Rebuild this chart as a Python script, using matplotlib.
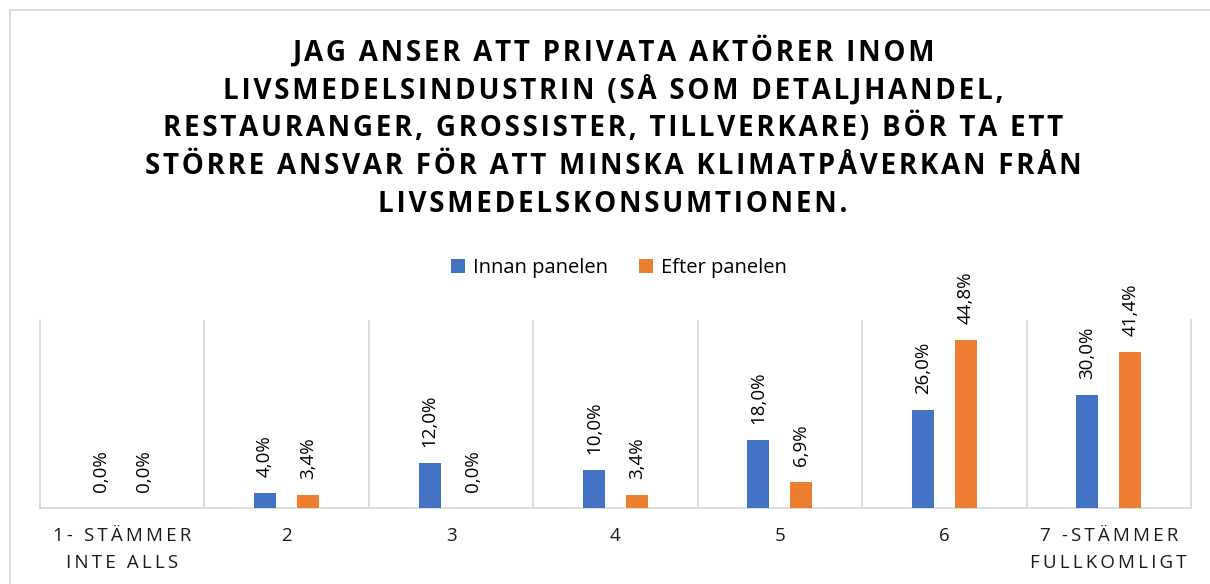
import matplotlib
matplotlib.use("Agg")
import matplotlib.pyplot as plt
import numpy as np
from matplotlib.patches import Patch, Rectangle

categories = ["1- STÄMMER\nINTE ALLS", "2", "3", "4", "5", "6", "7 -STÄMMER\nFULLKOMLIGT"]
innan = [0.0, 4.0, 12.0, 10.0, 18.0, 26.0, 30.0]
efter = [0.0, 3.4, 0.0, 3.4, 6.9, 44.8, 41.4]
series_names = ["Innan panelen", "Efter panelen"]
title_lines = [
    "JAG ANSER ATT PRIVATA AKTÖRER INOM",
    "LIVSMEDELSINDUSTRIN (SÅ SOM DETALJHANDEL,",
    "RESTAURANGER, GROSSISTER, TILLVERKARE) BÖR TA ETT",
    "STÖRRE ANSVAR FÖR ATT MINSKA KLIMATPÅVERKAN FRÅN",
    "LIVSMEDELSKONSUMTIONEN.",
]

BLUE = "#4472C4"
ORANGE = "#ED7D31"
GRID = "#D9D9D9"
FAM = ["Open Sans", "DejaVu Sans"]


def spaced(s, sep):
    return "\n".join(sep.join(line) for line in s.split("\n"))


W, H = 1210, 584
fig = plt.figure(figsize=(W / 100, H / 100), dpi=100)

# outer chart border
fig.patches.append(Rectangle((9.5 / W, -0.1), 2, 1 - 10 / H + 0.1, transform=fig.transFigure,
                             fill=False, edgecolor=GRID, linewidth=1.3))

ax = fig.add_axes([40 / W, 1 - 508 / H, (1191 - 40) / W, (508 - 320) / H])

x = np.arange(len(categories))
off, bw = 0.131, 0.134
ax.bar(x - off, innan, bw, color=BLUE, label=series_names[0], zorder=3)
ax.bar(x + off, efter, bw, color=ORANGE, label=series_names[1], zorder=3)

for xs, vals in ((x - off, innan), (x + off, efter)):
    for xi, v in zip(xs, vals):
        ax.annotate(f"{v:.1f}".replace(".", ",") + "%", (xi, v), xytext=(0, 11.5),
                    textcoords="offset points", rotation=90, ha="center", va="bottom",
                    fontsize=13.5, family=FAM, color="#000000")

ax.set_xlim(-0.5, len(categories) - 0.5)
ax.set_ylim(0, 50)
ax.set_yticks([])
ax.set_xticks(x)
ax.set_xticklabels([spaced(c, "\u2009") for c in categories], fontsize=13.5, family=FAM,
                   color="#1a1a1a", linespacing=1.6)
ax.tick_params(axis="x", length=0, pad=14)
ax.set_xticks(np.arange(0.5, len(categories) - 0.5, 1), minor=True)
ax.tick_params(axis="x", which="minor", length=0)
ax.grid(axis="x", which="minor", color=GRID, linewidth=1.3, zorder=0)
ax.spines["top"].set_visible(False)
for s in ("left", "right", "bottom"):
    ax.spines[s].set_color(GRID)
    ax.spines[s].set_linewidth(1.3)

# title
ys = [52, 90, 128, 167, 205]
for line, yy in zip(title_lines, ys):
    fig.text(613 / W, 1 - yy / H, spaced(line, "\u200a"), ha="center", va="center",
             fontsize=20, fontweight="bold", family=FAM, color="#000000")

handles = [Patch(facecolor=BLUE, edgecolor="none"), Patch(facecolor=ORANGE, edgecolor="none")]
fig.legend(handles, series_names, loc="center", bbox_to_anchor=(619 / W, 1 - 268 / H), ncol=2,
           frameon=False, prop={"family": FAM, "size": 14.5}, handlelength=0.7, handleheight=0.7,
           handletextpad=0.4, columnspacing=1.5, borderpad=0)

fig.savefig("out.png", dpi=100)
